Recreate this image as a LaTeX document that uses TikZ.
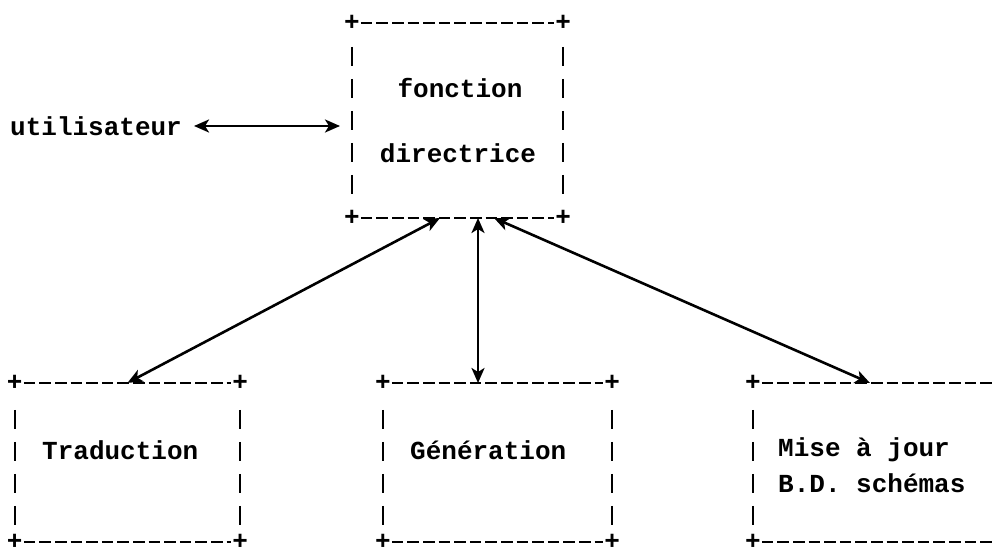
\documentclass[tikz,border=0pt]{standalone}
\usepackage{fontspec}
\setmonofont{Liberation Mono}
\usetikzlibrary{arrows.meta}

\tikzset{
  txt/.style={font=\fontsize{26}{32}\selectfont\ttfamily\bfseries, inner sep=0pt},
  boite/.style={inner sep=0pt, minimum width=#1},
  hbord/.style={line width=2.4pt, dash pattern=on 11.5pt off 4.1pt, shorten <=9pt, shorten >=9pt},
  vbord/.style={line width=2.4pt, dash pattern=on 19pt off 13pt, shorten <=#1, shorten >=12pt},
  fleche/.style={line width=2.6pt, {Stealth[length=15pt,width=13pt,inset=4pt]}-{Stealth[length=15pt,width=13pt,inset=4pt]}},
}

\begin{document}
\begin{tikzpicture}[x=1pt,y=-1pt]
    \useasboundingbox[fill=white] (0,0) rectangle (992,548);

    % les boites
    \node at (457.5,120.5) [boite=211pt, minimum height=195pt] (dir) {};
    \node at (127.5,462.5) [boite=225pt, minimum height=159pt] (trad) {};
    \node at (497.5,462.5) [boite=229pt, minimum height=159pt] (gen) {};
    \node at (883,462.5) [boite=260pt, minimum height=159pt] (maj) {};

    \draw[hbord] (dir.north west) -- (dir.north east);
    \draw[hbord] (dir.south west) -- (dir.south east);
    \draw[vbord=24pt] (dir.north west) -- (dir.south west);
    \draw[vbord=24pt] (dir.north east) -- (dir.south east);
    \foreach \b in {trad,gen,maj} {
        \draw[hbord] (\b.north west) -- (\b.north east);
        \draw[hbord] (\b.south west) -- (\b.south east);
        \draw[vbord=27pt] (\b.north west) -- (\b.south west);
        \draw[vbord=27pt] (\b.north east) -- (\b.south east);
    }
    \foreach \b in {dir,trad,gen,maj}
        \foreach \c in {north west,north east,south west,south east}
            \node[txt] at (\b.\c) {+};

    % les textes
    \node[txt] at (460,88) (fonc) {fonction};
    \node[txt] at (458,153) (direc) {directrice};
    \node[txt, anchor=west] at (42,450) (tradtxt) {Traduction};
    \node[txt, anchor=west] at (410,450) (gentxt) {Génération};
    \node[txt, anchor=west] at (778,450) (majtxt) {Mise à jour};
    \node[txt, anchor=west] at (778,483) (bdtxt) {B.D. schémas};
    \node[txt, anchor=west] at (10,126) (user) {utilisateur};

    % les liaisons
    \coordinate (uD) at (194,126);
    \coordinate (uA) at (340,126);
    \coordinate (dT) at (440,218);
    \coordinate (dG) at (478,218);
    \coordinate (dM) at (494,218);
    \coordinate (gA) at (478,383);
    \coordinate (mA) at (870,383);
    \draw[fleche] (uD) -- (uA);
    \draw[fleche] (trad.north) -- (dT);
    \draw[fleche] (gA) -- (dG);
    \draw[fleche] (mA) -- (dM);
\end{tikzpicture}
\end{document}
